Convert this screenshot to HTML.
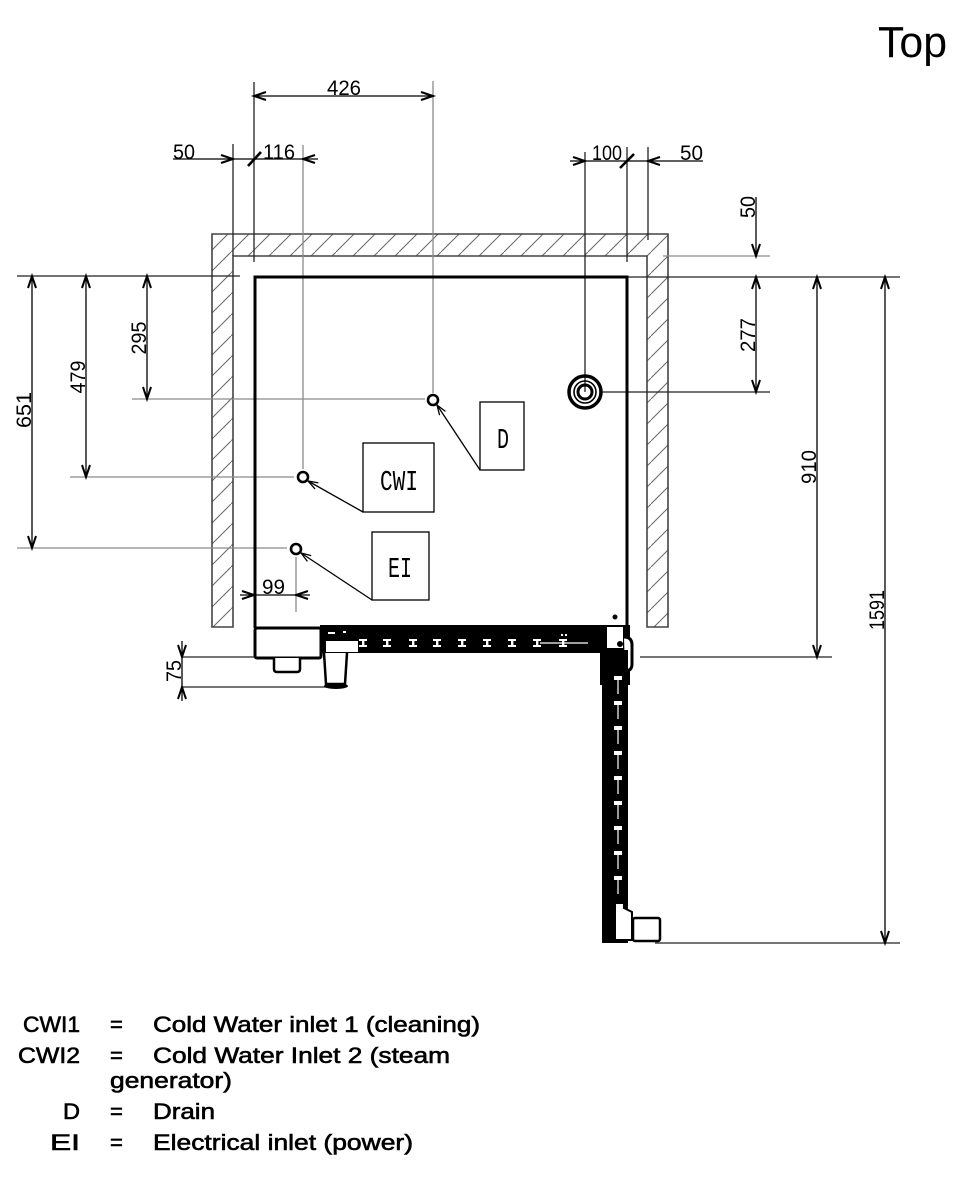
<!DOCTYPE html>
<html><head><meta charset="utf-8"><style>
html,body{margin:0;padding:0;background:#fff;}
svg{display:block;}
.dim{font-family:"Liberation Sans",sans-serif;font-size:21px;fill:#000;}
.lab{font-family:"Liberation Mono","Liberation Sans",monospace;font-size:29px;fill:#000;}
.leg{font-family:"Liberation Sans",sans-serif;font-size:22px;fill:#000;stroke:#000;stroke-width:0.6;}
</style></head><body>
<svg width="970" height="1182" viewBox="0 0 970 1182" xmlns="http://www.w3.org/2000/svg">
<defs>
<pattern id="hatch" patternUnits="userSpaceOnUse" width="21" height="21">
<line x1="-2" y1="23" x2="23" y2="-2" stroke="#666" stroke-width="1"/>
</pattern>
</defs>
<rect width="970" height="1182" fill="#fff"/>

<text x="878" y="57" font-family="Liberation Sans, sans-serif" font-size="44" textLength="69" lengthAdjust="spacingAndGlyphs">Top</text>

<path d="M212,234 L668,234 L668,627 L647,627 L647,256 L233,256 L233,627 L212,627 Z" fill="url(#hatch)" stroke="#444" stroke-width="1.6"/>

<g stroke="#8a8a8a" stroke-width="1.3" fill="none">
<line x1="433" y1="81" x2="433" y2="393"/>
<line x1="303" y1="145" x2="303" y2="469"/>
<line x1="132" y1="399" x2="425" y2="399"/>
<line x1="70" y1="477" x2="294" y2="477"/>
<line x1="17" y1="548" x2="287" y2="548"/>
<line x1="296" y1="557" x2="296" y2="612"/>
<line x1="663" y1="256" x2="770" y2="256"/>
</g>
<g stroke="#222" stroke-width="1.3" fill="none">
<line x1="254" y1="82" x2="254" y2="262"/>
<line x1="233" y1="144" x2="233" y2="256"/>
<line x1="585" y1="152" x2="585" y2="392"/>
<line x1="627" y1="147" x2="627" y2="262"/>
<line x1="648" y1="147" x2="648" y2="240"/>
<line x1="17" y1="276" x2="240" y2="276"/>
<line x1="627" y1="277" x2="900" y2="277"/>
<line x1="600" y1="392" x2="770" y2="392"/>
<line x1="640" y1="657" x2="832" y2="657"/>
<line x1="655" y1="943" x2="900" y2="943"/>
<line x1="182" y1="657" x2="254" y2="657"/>
<line x1="182" y1="687" x2="340" y2="687"/>
</g>

<g stroke="#000" stroke-width="1.3" fill="none">
<line x1="254" y1="96" x2="433" y2="96"/>
<line x1="173" y1="159" x2="318" y2="159"/>
<line x1="570" y1="161" x2="703" y2="161"/>
<line x1="756" y1="197" x2="756" y2="256"/>
<line x1="756" y1="277" x2="756" y2="392"/>
<line x1="817" y1="277" x2="817" y2="657"/>
<line x1="885" y1="277" x2="885" y2="943"/>
<line x1="32" y1="276" x2="32" y2="548"/>
<line x1="86" y1="276" x2="86" y2="477"/>
<line x1="147" y1="276" x2="147" y2="399"/>
<line x1="240" y1="595" x2="310" y2="595"/>
<line x1="182" y1="641" x2="182" y2="701"/>
</g>
<g stroke="#000" stroke-width="2" fill="none" stroke-linejoin="miter">
<polyline points="266,92 254,96 266,100"/>
<polyline points="421,92 433,96 421,100"/>
<polyline points="221,155 233,159 221,163"/>
<polyline points="315,155 303,159 315,163"/>
<polyline points="573,157 585,161 573,165"/>
<polyline points="660,157 648,161 660,165"/>
<polyline points="752,244 756,256 760,244"/>
<polyline points="752,289 756,277 760,289"/>
<polyline points="752,380 756,392 760,380"/>
<polyline points="813,289 817,277 821,289"/>
<polyline points="813,645 817,657 821,645"/>
<polyline points="881,289 885,277 889,289"/>
<polyline points="881,931 885,943 889,931"/>
<polyline points="28,288 32,276 36,288"/>
<polyline points="28,536 32,548 36,536"/>
<polyline points="82,288 86,276 90,288"/>
<polyline points="82,465 86,477 90,465"/>
<polyline points="143,288 147,276 151,288"/>
<polyline points="143,387 147,399 151,387"/>
<polyline points="242,591 254,595 242,599"/>
<polyline points="308,591 296,595 308,599"/>
<polyline points="178,645 182,657 186,645"/>
<polyline points="178,699 182,687 186,699"/>
</g>
<g stroke="#000" stroke-width="2.6">
<line x1="248" y1="166" x2="261" y2="152"/>
<line x1="620" y1="168" x2="634" y2="154"/>
</g>

<g class="dim">
<text x="327" y="95" textLength="34" lengthAdjust="spacingAndGlyphs">426</text>
<text x="173" y="159" textLength="22" lengthAdjust="spacingAndGlyphs">50</text>
<text x="263" y="159" textLength="32" lengthAdjust="spacingAndGlyphs">116</text>
<text x="592" y="160" textLength="30" lengthAdjust="spacingAndGlyphs">100</text>
<text x="680" y="160" textLength="23" lengthAdjust="spacingAndGlyphs">50</text>
<text x="262" y="594" textLength="23" lengthAdjust="spacingAndGlyphs">99</text>
<text transform="translate(31,410) rotate(-90)" text-anchor="middle" textLength="36" lengthAdjust="spacingAndGlyphs">651</text>
<text transform="translate(85,377) rotate(-90)" text-anchor="middle" textLength="33" lengthAdjust="spacingAndGlyphs">479</text>
<text transform="translate(146,338) rotate(-90)" text-anchor="middle" textLength="33" lengthAdjust="spacingAndGlyphs">295</text>
<text transform="translate(755,207) rotate(-90)" text-anchor="middle" textLength="22" lengthAdjust="spacingAndGlyphs">50</text>
<text transform="translate(755,335) rotate(-90)" text-anchor="middle" textLength="34" lengthAdjust="spacingAndGlyphs">277</text>
<text transform="translate(816,467) rotate(-90)" text-anchor="middle" textLength="34" lengthAdjust="spacingAndGlyphs">910</text>
<text transform="translate(884,610) rotate(-90)" text-anchor="middle" textLength="40" lengthAdjust="spacingAndGlyphs">1591</text>
<text transform="translate(181,671) rotate(-90)" text-anchor="middle" textLength="22" lengthAdjust="spacingAndGlyphs">75</text>
</g>

<path d="M255,628 L255,277 L627,277 L627,625" fill="none" stroke="#000" stroke-width="3"/>

<circle cx="585" cy="392" r="16" fill="none" stroke="#000" stroke-width="3.5"/>
<circle cx="585" cy="392" r="11" fill="none" stroke="#000" stroke-width="1.6"/>
<circle cx="585" cy="392" r="7" fill="none" stroke="#000" stroke-width="3"/>

<g fill="#fff" stroke="#000" stroke-width="2.6">
<circle cx="433" cy="400" r="5"/>
<circle cx="303" cy="477" r="5"/>
<circle cx="296" cy="549" r="5"/>
</g>

<g fill="none" stroke="#000" stroke-width="1.3">
<rect x="480" y="402" width="44" height="68"/>
<rect x="363" y="443" width="71" height="69"/>
<rect x="372" y="532" width="57" height="68"/>
<line x1="480" y1="470" x2="437" y2="405"/>
<polyline points="445.4,411.4 437,405 439.6,415.2"/>
<line x1="363" y1="512" x2="308" y2="481"/>
<polyline points="318.4,482.9 308,481 315,488.9"/>
<line x1="372" y1="600" x2="301" y2="553"/>
<polyline points="311.2,555.6 301,553 307.4,561.4"/>
</g>
<g class="lab">
<text x="497" y="448" textLength="12" lengthAdjust="spacingAndGlyphs">D</text>
<text x="380" y="490" textLength="38" lengthAdjust="spacingAndGlyphs">CWI</text>
<text x="388" y="577" textLength="24" lengthAdjust="spacingAndGlyphs">EI</text>
</g>

<rect x="320" y="625" width="285" height="28" fill="#000"/>
<rect x="326" y="641" width="32" height="11" fill="#fff"/>
<rect x="328" y="632" width="7" height="2" fill="#fff"/>
<rect x="343" y="631" width="3" height="2" fill="#fff"/>
<line x1="540" y1="643" x2="588" y2="643" stroke="#fff" stroke-width="1.3"/>
<g fill="#fff">
<rect x="359" y="639" width="8" height="2"/><rect x="362" y="641" width="2.4" height="4"/><rect x="359" y="645" width="8" height="2"/>
<rect x="383" y="639" width="8" height="2"/><rect x="386" y="641" width="2.4" height="4"/><rect x="383" y="645" width="8" height="2"/>
<rect x="409" y="639" width="8" height="2"/><rect x="412" y="641" width="2.4" height="4"/><rect x="409" y="645" width="8" height="2"/>
<rect x="433" y="639" width="8" height="2"/><rect x="436" y="641" width="2.4" height="4"/><rect x="433" y="645" width="8" height="2"/>
<rect x="458" y="639" width="8" height="2"/><rect x="461" y="641" width="2.4" height="4"/><rect x="458" y="645" width="8" height="2"/>
<rect x="483" y="639" width="8" height="2"/><rect x="486" y="641" width="2.4" height="4"/><rect x="483" y="645" width="8" height="2"/>
<rect x="508" y="639" width="8" height="2"/><rect x="511" y="641" width="2.4" height="4"/><rect x="508" y="645" width="8" height="2"/>
<rect x="533" y="639" width="8" height="2"/><rect x="536" y="641" width="2.4" height="4"/><rect x="533" y="645" width="8" height="2"/>
<rect x="559" y="639" width="8" height="2"/><rect x="562" y="641" width="2.4" height="4"/><rect x="559" y="645" width="8" height="2"/>
<rect x="561" y="634" width="2" height="2"/><rect x="565" y="634" width="2" height="2"/>
</g>

<rect x="255" y="628" width="66" height="30" rx="2" fill="#fff" stroke="#000" stroke-width="3"/>
<path d="M274,658 L274,669 Q274,672 277,672 L297,672 Q300,672 300,669 L300,658" fill="#fff" stroke="#000" stroke-width="2.5"/>
<path d="M324,653 L326,684 L345,684 L347,653" fill="#fff" stroke="#000" stroke-width="2.5"/>
<ellipse cx="336" cy="686" rx="12" ry="3" fill="#000"/>

<circle cx="615" cy="617" r="2.5" fill="#000"/>
<rect x="600" y="625" width="30" height="60" fill="#000"/>
<rect x="606" y="626" width="18" height="23" fill="#fff" stroke="#000" stroke-width="2"/>
<circle cx="620" cy="644" r="3" fill="#000"/>
<path d="M624,637 Q632,637 632,645 L632,664 Q632,671 625,671" fill="#fff" stroke="#000" stroke-width="3"/>
<path d="M609,655 L622,655 L622,672 L618,680 L612,678 L609,668 Z" fill="#fff"/>

<rect x="602" y="650" width="26" height="293" fill="#000"/>
<line x1="618" y1="680" x2="618" y2="900" stroke="#fff" stroke-width="1.2" stroke-dasharray="14,11"/>
<g fill="#fff">
<rect x="614" y="676" width="8" height="4"/>
<rect x="614" y="701" width="8" height="4"/>
<rect x="614" y="726" width="8" height="4"/>
<rect x="614" y="751" width="8" height="4"/>
<rect x="614" y="776" width="8" height="4"/>
<rect x="614" y="801" width="8" height="4"/>
<rect x="614" y="826" width="8" height="4"/>
<rect x="614" y="851" width="8" height="4"/>
<rect x="614" y="876" width="8" height="4"/>
</g>
<path d="M615,940 L615,903 L624,903 L624,908 L632,912 L632,940 Z" fill="#fff" stroke="#000" stroke-width="2"/>
<rect x="633" y="918" width="27" height="23" rx="2" fill="#fff" stroke="#000" stroke-width="2.5"/>

<g class="leg">
<text x="23" y="1032" textLength="57" lengthAdjust="spacingAndGlyphs">CWI1</text>
<text x="110" y="1032">=</text>
<text x="153" y="1032" textLength="327" lengthAdjust="spacingAndGlyphs">Cold Water inlet 1 (cleaning)</text>
<text x="18" y="1063" textLength="62" lengthAdjust="spacingAndGlyphs">CWI2</text>
<text x="110" y="1063">=</text>
<text x="153" y="1063" textLength="297" lengthAdjust="spacingAndGlyphs">Cold Water Inlet 2 (steam</text>
<text x="110" y="1088" textLength="122" lengthAdjust="spacingAndGlyphs">generator)</text>
<text x="63" y="1119" textLength="17" lengthAdjust="spacingAndGlyphs">D</text>
<text x="110" y="1119">=</text>
<text x="153" y="1119" textLength="62" lengthAdjust="spacingAndGlyphs">Drain</text>
<text x="50" y="1150" textLength="30" lengthAdjust="spacingAndGlyphs">EI</text>
<text x="110" y="1150">=</text>
<text x="153" y="1150" textLength="260" lengthAdjust="spacingAndGlyphs">Electrical inlet (power)</text>
</g>
</svg>
</body></html>
